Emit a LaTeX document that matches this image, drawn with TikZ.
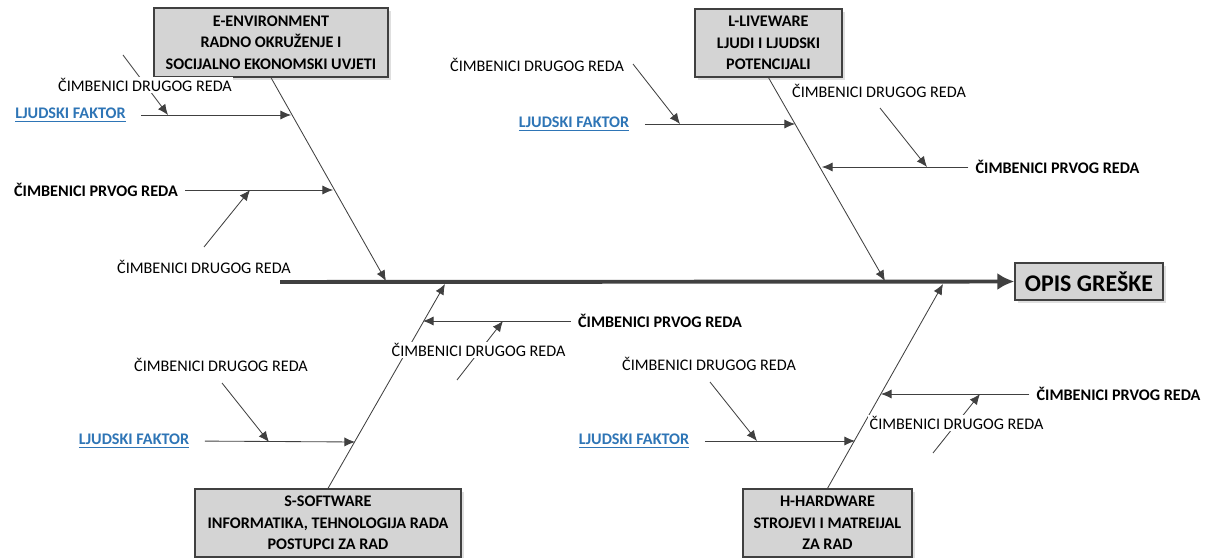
\documentclass[tikz,border=0pt]{standalone}
\usepackage{fontspec}
\setmainfont{Carlito}
\usetikzlibrary{arrows.meta,shadows,backgrounds}
\tikzset{>=latex}
\definecolor{linegray}{HTML}{404040}
\definecolor{linkblue}{HTML}{2E75B6}
\definecolor{boxgray}{HTML}{D4D4D4}
\tikzset{
  catbox/.style={draw=linegray, line width=0.9pt, fill=boxgray, align=center,
    font=\fontsize{11.5}{15.2}\selectfont\bfseries, inner sep=2pt,
    drop shadow={opacity=0.25, shadow xshift=2pt, shadow yshift=-2pt}},
  headbox/.style={catbox, font=\fontsize{17}{20}\selectfont\bfseries},
  lbl/.style={fill=white, inner sep=1pt, font=\fontsize{11.5}{14}\selectfont},
  lblbold/.style={lbl, font=\fontsize{11.5}{14}\selectfont\bfseries},
  lblfakt/.style={lbl, text=linkblue, font=\fontsize{11.5}{14}\selectfont\bfseries},
  spineline/.style={draw=linegray, line width=2.8pt, -{Latex[length=12pt,width=12pt]}},
  bone/.style={draw=linegray, line width=0.6pt, -{Latex[length=7.5pt,width=6.5pt]}},
  branch/.style={bone},
  faktarrow/.style={bone, shorten <=10pt},
  prvarrow/.style={bone, shorten <=4pt},
}
\newcommand{\faktor}{\underline{LJUDSKI FAKTOR}}
\newcommand{\drugi}{ČIMBENICI DRUGOG REDA}
\newcommand{\prvi}{ČIMBENICI PRVOG REDA}
\begin{document}
\begin{tikzpicture}[x=0.025cm,y=-0.025cm]
\useasboundingbox (0,0) rectangle (1213,558);

% kategorije
\node[catbox, minimum width=5.85cm, minimum height=1.725cm] (env) at (271,42.5)
  {E-ENVIRONMENT\\RADNO OKRUŽENJE I\\SOCIJALNO EKONOMSKI UVJETI};
\node[catbox, minimum width=3.675cm, minimum height=1.7cm] (live) at (768.5,43)
  {L-LIVEWARE\\LJUDI I LJUDSKI\\POTENCIJALI};
\node[catbox, minimum width=6.65cm, minimum height=1.7cm] (soft) at (328,523)
  {S-SOFTWARE\\INFORMATIKA, TEHNOLOGIJA RADA\\POSTUPCI ZA RAD};
\node[catbox, minimum width=4.225cm, minimum height=1.7cm] (hard) at (827.5,523)
  {H-HARDWARE\\STROJEVI I MATREIJAL\\ZA RAD};
\node[headbox, minimum width=3.7cm, minimum height=0.925cm] (opis) at (1089,281.5) {OPIS GREŠKE};

% tocke na kraljeznici i kostima
\coordinate (spine) at (280,282);
\coordinate (envS) at (386,281);
\coordinate (liveS) at (885,281);
\coordinate (softS) at (445,284);
\coordinate (hardS) at (943,284);

\coordinate (envB1) at (291,115);
\coordinate (envB2) at (333,190);
\coordinate (liveB1) at (795,124);
\coordinate (liveB2) at (822,167);
\coordinate (softB1) at (423,321);
\coordinate (softB2) at (355,442);
\coordinate (hardB1) at (855,441);
\coordinate (hardB2) at (881,394);

% drugi red: rep i vrh
\coordinate (e1t) at (123,55);  \coordinate (e1h) at (168,115);
\coordinate (e2t) at (204,247); \coordinate (e2h) at (250,190);
\coordinate (l1t) at (633,64);  \coordinate (l1h) at (680,124);
\coordinate (l2t) at (880,108); \coordinate (l2h) at (927,167);
\coordinate (s1t) at (457,380); \coordinate (s1h) at (503,321);
\coordinate (s2t) at (222,383); \coordinate (s2h) at (269,442);
\coordinate (h1t) at (710,382); \coordinate (h1h) at (757,441);
\coordinate (h2t) at (933,453); \coordinate (h2h) at (980,394);

% oznake
\node[lbl] (drugE1) at (145,85) {\drugi};
\node[lblfakt] (faktE) at (70.5,115) {\faktor};
\node[lblbold] (prvE) at (96,190) {\prvi};
\node[lbl] (drugE2) at (204,267) {\drugi};

\node[lbl] (drugL1) at (537,65) {\drugi};
\node[lblfakt] (faktL) at (574,124) {\faktor};
\node[lbl] (drugL2) at (879,91) {\drugi};
\node[lblbold] (prvL) at (1057.5,167) {\prvi};

\node[lblbold] (prvS) at (660,321) {\prvi};
\node[lbl] (drugS1) at (478.5,350) {\drugi};
\node[lbl] (drugS2) at (221,365) {\drugi};
\node[lblfakt] (faktS) at (134,441) {\faktor};

\node[lbl] (drugH1) at (709,364) {\drugi};
\node[lblfakt] (faktH) at (634,441) {\faktor};
\node[lblbold] (prvH) at (1118.5,394) {\prvi};
\node[lbl] (drugH2) at (956.5,423) {\drugi};

\begin{scope}[on background layer]
  \draw[spineline] (spine) -- (opis.west);
  \draw[bone] (env.south) -- (envS);
  \draw[bone] (live.south) -- (liveS);
  \draw[bone] (soft.north) -- (softS);
  \draw[bone] (hard.north) -- (hardS);

  \draw[faktarrow] (faktE.east) -- (envB1);
  \draw[prvarrow] (prvE.east) -- (envB2);
  \draw[faktarrow] (faktL.east) -- (liveB1);
  \draw[prvarrow] (prvL.west) -- (liveB2);
  \draw[prvarrow] (prvS.west) -- (softB1);
  \draw[faktarrow] (faktS.east) -- (softB2);
  \draw[faktarrow] (faktH.east) -- (hardB1);
  \draw[prvarrow] (prvH.west) -- (hardB2);

  \foreach \k in {e1,e2,l1,l2,s1,s2,h1,h2}
    \draw[branch] (\k t) -- (\k h);
\end{scope}

\end{tikzpicture}
\end{document}
